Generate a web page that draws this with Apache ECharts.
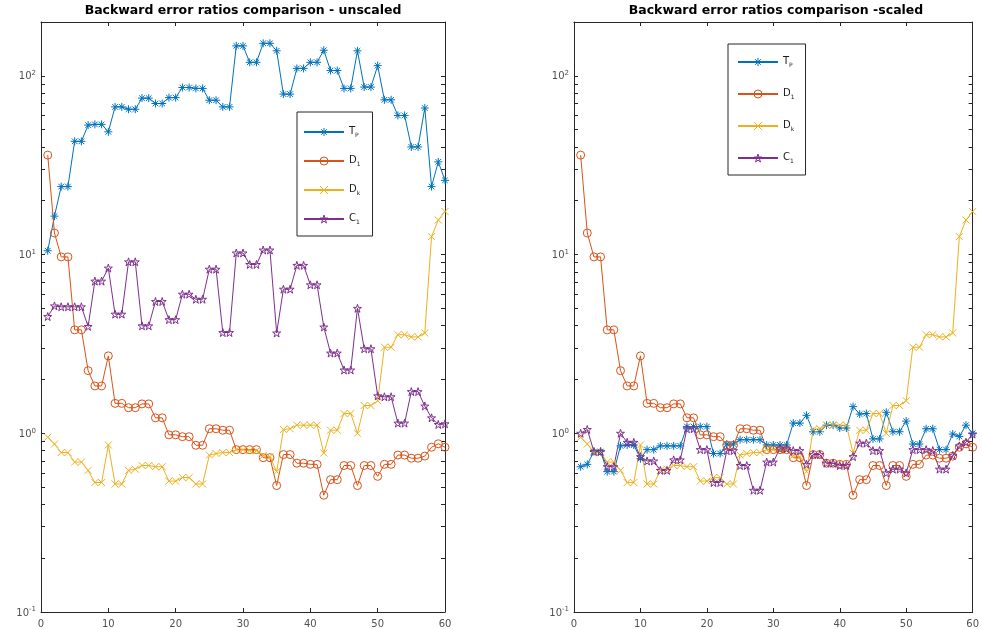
<!DOCTYPE html>
<html><head><meta charset="utf-8">
<script src="https://cdn.jsdelivr.net/npm/echarts@6/dist/echarts.min.js"></script>
<style>html,body{margin:0;padding:0;background:#fff}#c{width:982px;height:629px}</style>
</head><body><div id="c"></div>
<script>
// ---- data (x = 1..60) ----
const tpUnscaled = [10.5,16.4,24,24,43,43,53,53.5,53.5,48.6,
  67,67,65,65,75,75,70,70,75.5,75.5,
  86,86,85,85,73,73,67,67,147,147,
  119,119,152,152,138,79,79,110,110,119,
  119,139,107,107,85,85,138,86.5,86.5,114,
  73.4,73.4,60,60,40,40,66,24,33,26];
const d1Values = [36,13.2,9.7,9.7,3.79,3.79,2.24,1.84,1.84,2.71,
  1.47,1.47,1.39,1.39,1.46,1.46,1.22,1.22,0.98,0.98,
  0.957,0.957,0.857,0.857,1.06,1.06,1.04,1.04,0.81,0.81,
  0.81,0.81,0.73,0.73,0.51,0.76,0.76,0.68,0.68,0.67,
  0.67,0.45,0.55,0.55,0.66,0.66,0.51,0.66,0.66,0.574,
  0.67,0.67,0.755,0.755,0.725,0.725,0.745,0.835,0.873,0.835];
const dkValues = [0.95,0.87,0.78,0.78,0.69,0.69,0.62,0.53,0.53,0.86,
  0.52,0.52,0.62,0.63,0.66,0.66,0.65,0.65,0.54,0.54,
  0.565,0.565,0.52,0.52,0.755,0.77,0.78,0.78,0.81,0.81,
  0.8,0.8,0.75,0.74,0.61,1.05,1.06,1.11,1.11,1.11,
  1.11,0.775,1.04,1.04,1.29,1.29,1.0,1.43,1.43,1.52,
  3.03,3.03,3.56,3.56,3.46,3.46,3.64,12.6,15.6,17.4];
const c1Unscaled = [4.5,5.16,5.1,5.1,5.1,5.1,3.96,7.1,7.1,8.4,
  4.64,4.64,9.1,9.1,3.99,3.99,5.46,5.46,4.32,4.32,
  6.0,6.0,5.62,5.62,8.28,8.28,3.66,3.66,10.2,10.2,
  8.8,8.8,10.6,10.6,3.64,6.4,6.4,8.7,8.7,6.77,
  6.77,3.93,2.81,2.81,2.26,2.26,5.0,2.97,2.97,1.62,
  1.6,1.6,1.14,1.14,1.71,1.71,1.42,1.22,1.12,1.13];
const tpScaled = [0.65,0.67,0.79,0.79,0.61,0.61,0.85,0.86,0.86,0.72,
  0.81,0.81,0.85,0.85,0.85,0.85,1.09,1.09,1.09,1.09,
  0.77,0.77,0.87,0.87,0.92,0.92,0.92,0.92,0.86,0.86,
  0.86,0.86,1.14,1.14,1.26,1.02,1.02,1.11,1.11,1.07,
  1.07,1.41,1.28,1.29,0.93,0.93,1.31,1.02,1.02,1.17,
  0.87,0.87,1.06,1.06,0.81,0.81,0.99,0.96,1.11,1.0];
const c1Scaled = [1.0,1.05,0.79,0.79,0.65,0.65,1.0,0.89,0.89,0.74,
  0.70,0.70,0.62,0.62,0.71,0.71,1.06,1.06,0.81,0.81,
  0.53,0.53,0.80,0.80,0.66,0.66,0.48,0.48,0.69,0.69,
  0.82,0.82,0.80,0.80,0.67,0.76,0.76,0.68,0.68,0.66,
  0.66,0.74,0.88,0.88,0.80,0.80,0.60,0.63,0.63,0.60,
  0.81,0.81,0.81,0.80,0.63,0.63,0.75,0.85,0.89,0.99];

const titles = ['Backward error ratios comparison - unscaled', 'Backward error ratios comparison -scaled'];
const seriesNames = ['Tp', 'D1', 'Dk', 'C1'];
const legendMain = {Tp: 'T', D1: 'D', Dk: 'D', C1: 'C'};
const legendSub = {Tp: 'P', D1: '1', Dk: 'k', C1: '1'};
const yMajorTicks = [0.1, 1, 10, 100];
const yAllTicks = [0.1,0.2,0.3,0.4,0.5,0.6,0.7,0.8,0.9,1,2,3,4,5,6,7,8,9,10,20,30,40,50,60,70,80,90,100,200];
const xMin = 0, xMax = 60, xStep = 10;
const yMin = 0.1, yMax = 200;

// ---- styles ----
const colors = {Tp: '#0072BD', D1: '#D95319', Dk: '#EDB120', C1: '#7E2F8E'};
const symbols = {
  Tp: 'path://M0,-1L0,1M-1,0L1,0M-0.7,-0.7L0.7,0.7M-0.7,0.7L0.7,-0.7',
  D1: 'circle',
  Dk: 'path://M-1,-1L1,1M-1,1L1,-1',
  C1: 'path://M0,-1L0.2245,-0.309L0.951,-0.309L0.363,0.118L0.588,0.809L0,0.382L-0.588,0.809L-0.363,0.118L-0.951,-0.309L-0.2245,-0.309Z'
};
const symSize = {Tp: 8, D1: 8, Dk: 7, C1: 8};
const axisColor = '#262626';
const labelColor = '#505050';
const FONT = '"DejaVu Sans", "Liberation Sans", sans-serif';

const grids = [
  {left: 41, top: 22, width: 404, height: 590},
  {left: 574, top: 22, width: 402, height: 590}
];
const titleCenters = [243, 776];

const xAxes = [], yAxes = [], series = [];
grids.forEach((g, gi) => {
  xAxes.push({type: 'value', gridIndex: gi, min: xMin, max: xMax, interval: xStep, position: 'bottom',
    axisLine: {show: true, onZero: false, lineStyle: {color: axisColor, width: 1}},
    axisTick: {show: true, inside: true, length: 4, lineStyle: {color: axisColor}},
    axisLabel: {color: labelColor, fontSize: 10, fontFamily: FONT, margin: 7},
    splitLine: {show: false}});
  xAxes.push({type: 'value', gridIndex: gi, min: xMin, max: xMax, interval: xStep, position: 'top',
    axisLine: {show: true, onZero: false, lineStyle: {color: axisColor, width: 1}},
    axisTick: {show: true, inside: true, length: 4, lineStyle: {color: axisColor}},
    axisLabel: {show: false}, splitLine: {show: false}});
  yAxes.push({type: 'log', logBase: 10, gridIndex: gi, min: yMin, max: yMax, position: 'left',
    axisLine: {show: true, onZero: false, lineStyle: {color: axisColor, width: 1}},
    axisTick: {show: true, inside: true, length: 4, customValues: yAllTicks, lineStyle: {color: axisColor}},
    axisLabel: {customValues: yMajorTicks, margin: 5, fontFamily: FONT,
      formatter: v => '{b|10}{e|' + Math.round(Math.log10(v)) + '}',
      rich: {b: {fontSize: 10, color: labelColor, fontFamily: FONT, verticalAlign: 'bottom'},
             e: {fontSize: 7, color: labelColor, fontFamily: FONT, verticalAlign: 'bottom', padding: [0, 0, 5, 0]}}},
    splitLine: {show: false}});
  yAxes.push({type: 'log', logBase: 10, gridIndex: gi, min: yMin, max: yMax, position: 'right',
    axisLine: {show: true, onZero: false, lineStyle: {color: axisColor, width: 1}},
    axisTick: {show: true, inside: true, length: 4, customValues: yAllTicks, lineStyle: {color: axisColor}},
    axisLabel: {show: false}, splitLine: {show: false}});
});

function mk(name, values, gi) {
  const c = colors[name];
  return {type: 'line', name: name, xAxisIndex: gi * 2, yAxisIndex: gi * 2,
    data: values.map((v, i) => [i + 1, v]),
    symbol: symbols[name], symbolSize: symSize[name], showSymbol: true,
    lineStyle: {color: c, width: 1},
    itemStyle: {color: 'rgba(255,255,255,0)', borderColor: c, borderWidth: 1},
    emphasis: {disabled: true}, animation: false, z: 3};
}
series.push(mk('Tp', tpUnscaled, 0), mk('D1', d1Values, 0), mk('Dk', dkValues, 0), mk('C1', c1Unscaled, 0));
series.push(mk('Tp', tpScaled, 1), mk('D1', d1Values, 1), mk('Dk', dkValues, 1), mk('C1', c1Scaled, 1));

const legendCommon = {orient: 'vertical', data: seriesNames, itemWidth: 40, itemHeight: 10,
  backgroundColor: '#fff', borderColor: axisColor, borderWidth: 1, selectedMode: false,
  itemStyle: {color: 'rgba(255,255,255,0)', borderWidth: 1},
  formatter: n => '{m|' + legendMain[n] + '}{s|' + legendSub[n] + '}',
  textStyle: {fontFamily: FONT, color: '#000',
    rich: {m: {fontSize: 10, fontFamily: FONT, color: '#1a1a1a', verticalAlign: 'bottom', padding: [0, 0, 2, 0]},
           s: {fontSize: 6, fontFamily: FONT, color: '#1a1a1a', verticalAlign: 'bottom'}}}};

const option = {
  animation: false,
  backgroundColor: '#fff',
  title: titles.map((t, i) => ({text: t, left: titleCenters[i], top: 4, textAlign: 'center', padding: 0,
    textStyle: {fontSize: 12.5, fontWeight: 'bold', color: '#000', fontFamily: FONT}})),
  grid: grids,
  xAxis: xAxes,
  yAxis: yAxes,
  legend: [
    Object.assign({}, legendCommon, {left: 297, top: 112, itemGap: 17, padding: [14, 12, 11, 6]}),
    Object.assign({}, legendCommon, {left: 728, top: 44, itemGap: 20, padding: [12, 11, 11, 9]})
  ],
  series: series
};
const chart = echarts.init(document.getElementById('c'), null, {renderer: 'canvas'});
chart.setOption(option);
</script>
</body></html>
